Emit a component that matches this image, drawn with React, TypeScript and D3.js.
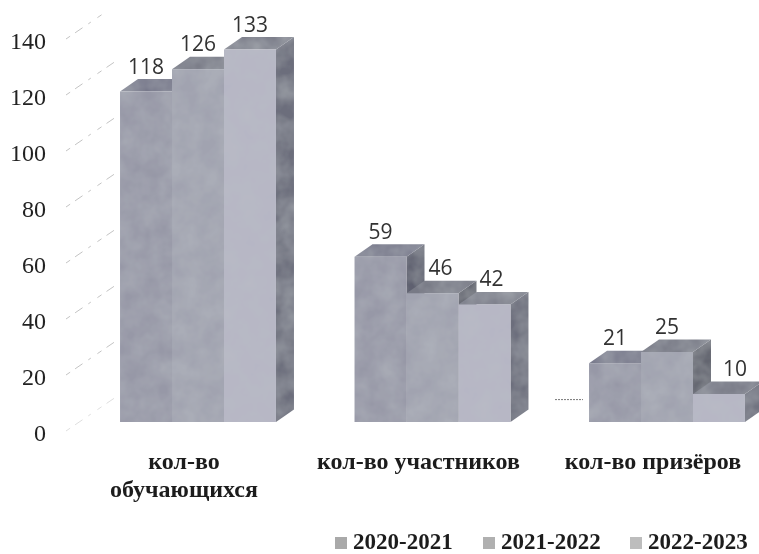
import React from "react";
import * as d3 from "d3";

const categories = ["обучающихся", "участников", "призёров"];
const categoryLines = [["кол-во", "обучающихся"], ["кол-во участников"], ["кол-во призёров"]];
const seriesNames = ["2020-2021", "2021-2022", "2022-2023"];
const values2020 = [118, 59, 21];
const values2021 = [126, 46, 25];
const values2022 = [133, 42, 10];
const yTicks = [0, 20, 40, 60, 80, 100, 120, 140];

// layout-only nudges of the value labels (px), by series then category
const labelNudge = [[0, 0, 0], [0, 8, 0], [0, 7, 16]];

const W = 759, H = 554;
const DX = 18, DY = -12.5;
const y = d3.scaleLinear().domain([0, 140]).range([422, 30]);
const x0 = d3.scaleBand<string>().domain(categories).range([80.75, 784.25]).paddingInner(0.335).paddingOuter(0.1675);
const x1 = d3.scaleBand<string>().domain(seriesNames).range([0, x0.bandwidth()]);

const faces = [
  { front: "#9798a7", top: "#76778a", side: "#5f6170" },
  { front: "#a1a3b0", top: "#787a86", side: "#5e606b" },
  { front: "#b6b6c5", top: "#7d7f8b", side: "#6c6e7c" },
];
const swatch = ["#a9a9a9", "#b0b0b0", "#bdbdbd"];
const legendX = [335, 483, 630];
const serif = "'Liberation Serif', serif";

function poly(pts: [number, number][]) {
  const p = d3.path();
  pts.forEach((q, i) => (i ? p.lineTo(q[0], q[1]) : p.moveTo(q[0], q[1])));
  p.closePath();
  return p.toString();
}

export default function App() {
  const series = [values2020, values2021, values2022];
  return (
    <svg width={W} height={H} viewBox={`0 0 ${W} ${H}`} style={{ position: "absolute", left: 0, top: 0, background: "#fff" }}>
      <defs>
        <filter id="grain" x="0" y="0" width="100%" height="100%">
          <feTurbulence type="fractalNoise" baseFrequency="0.05" numOctaves="3" seed="4" result="n" />
          <feColorMatrix in="n" type="matrix" values="0 0 0 0 0.5  0 0 0 0 0.53  0 0 0 0 0.56  0.6 0 0 0 -0.14" result="c" />
          <feComposite in="c" in2="SourceGraphic" operator="atop" result="t" />
          <feGaussianBlur in="t" stdDeviation="0.6" />
        </filter>
        <filter id="soft"><feGaussianBlur stdDeviation="0.35" /></filter>
      </defs>

      {yTicks.map((t) => (
        <g key={t}>
          <line
            x1={66} y1={y(t) + 9} x2={t === 140 ? 105 : 118} y2={y(t) + 9 - 0.68 * (t === 140 ? 39 : 52)}
            stroke="#8c8c8c" strokeWidth={0.8} strokeDasharray="5 6 9 7 3 8" opacity={t === 0 ? 0.35 : 0.65}
          />
          <text x={46} y={y(t) + 18.5} textAnchor="end" fontFamily={serif} fontSize={24} fill="#222" filter="url(#soft)">{t}</text>
        </g>
      ))}
      <line x1={555} x2={583} y1={y(8)} y2={y(8)} stroke="#777" strokeWidth={1} strokeDasharray="2 1" />

      <g filter="url(#grain)">
        {categories.map((c, ci) =>
          seriesNames.map((s, si) => {
            const v = series[si][ci];
            const l = x0(c)! + x1(s)!;
            const r = l + x1.bandwidth();
            const t = y(v), b = y(0);
            return (
              <g key={c + s}>
                <path d={poly([[r, t], [r + DX, t + DY], [r + DX, b + DY], [r, b]])} fill={faces[si].side} />
                <path d={poly([[l, t], [l + DX, t + DY], [r + DX, t + DY], [r, t]])} fill={faces[si].top} />
                <rect x={l} y={t} width={r - l} height={b - t} fill={faces[si].front} />
              </g>
            );
          })
        )}
      </g>

      {categories.map((c, ci) =>
        seriesNames.map((s, si) => {
          const v = series[si][ci];
          return (
            <text key={c + s} x={x0(c)! + x1(s)! + x1.bandwidth() / 2 + labelNudge[si][ci]} y={y(v) - 18}
              textAnchor="middle" fontFamily="'Open Sans', sans-serif" fontSize={21} fill="#333" filter="url(#soft)">{v}</text>
          );
        })
      )}

      {categories.map((c, ci) =>
        categoryLines[ci].map((line, li) => (
          <text key={line} x={x0(c)! + x0.bandwidth() / 2 - 14} y={469 + li * 28}
            textAnchor="middle" fontFamily={serif} fontWeight="bold" fontSize={24} fill="#1c1c1c" filter="url(#soft)">{line}</text>
        ))
      )}

      {seriesNames.map((s, i) => (
        <g key={s}>
          <rect x={legendX[i]} y={537} width={12} height={12} fill={swatch[i]} />
          <text x={legendX[i] + 18} y={549} fontFamily={serif} fontWeight="bold" fontSize={23} fill="#1c1c1c" filter="url(#soft)">{s}</text>
        </g>
      ))}
    </svg>
  );
}
